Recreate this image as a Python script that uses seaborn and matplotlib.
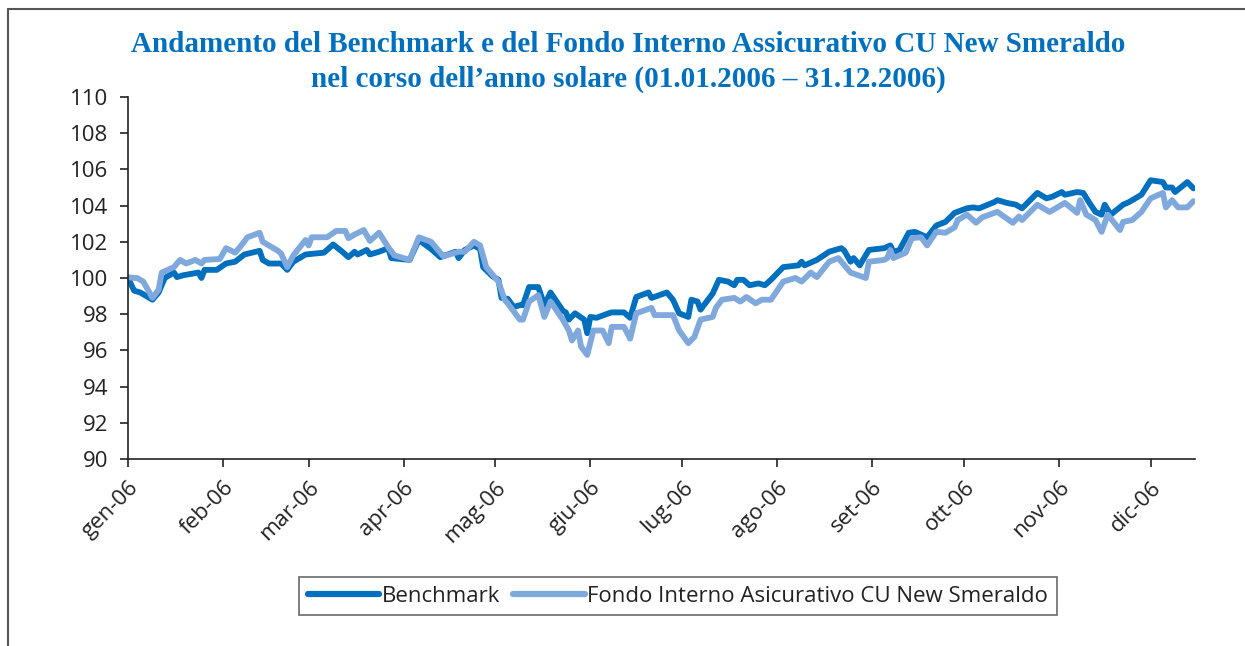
import pandas as pd
import matplotlib.pyplot as plt
import seaborn as sns

# giorni dal 01.01.2006 e valori
giorni_benchmark = [0, 2, 4, 6, 8, 10, 12, 15, 16, 18, 23, 24, 25, 29, 32, 35, 38, 43, 44, 46,
                    50, 52, 54, 58, 64, 67, 70, 72, 74, 75, 78, 79, 82, 85, 86, 92, 95, 99, 102, 107,
                    108, 110, 113, 115, 116, 119, 121, 122, 124, 126, 128, 129, 131, 134, 136, 138, 142, 143, 144, 146,
                    149, 150, 151, 153, 157, 158, 162, 164, 166, 170, 171, 176, 178, 180, 183, 184, 186, 187, 191, 193,
                    196, 198, 199, 201, 203, 206, 208, 210, 214, 219, 220, 221, 225, 229, 233, 234, 236, 237, 239, 242,
                    247, 249, 250, 252, 255, 257, 261, 264, 267, 270, 274, 276, 278, 283, 284, 287, 290, 292, 297, 300,
                    302, 305, 306, 310, 312, 314, 316, 318, 319, 321, 325, 327, 331, 334, 338, 339, 341, 342, 346, 348]
valori_benchmark = [100.0, 99.3, 99.2, 99.0, 98.8, 99.2, 100.0, 100.3, 100.05, 100.15, 100.3, 100.0, 100.45, 100.45, 100.8, 100.9, 101.3, 101.5, 101.0, 100.8,
                    100.8, 100.45, 100.9, 101.3, 101.4, 101.85, 101.45, 101.15, 101.45, 101.3, 101.55, 101.3, 101.45, 101.65, 101.1, 101.0, 102.1, 101.6, 101.15, 101.45,
                    101.1, 101.55, 101.8, 101.6, 100.6, 100.1, 99.9, 98.9, 98.85, 98.4, 98.5, 98.5, 99.5, 99.5, 98.5, 99.2, 98.2, 98.1, 97.7, 98.05,
                    97.7, 96.95, 97.85, 97.8, 98.05, 98.1, 98.1, 97.8, 98.95, 99.2, 98.9, 99.2, 98.8, 98.05, 97.85, 98.8, 98.7, 98.25, 99.15, 99.9,
                    99.8, 99.6, 99.9, 99.9, 99.6, 99.7, 99.6, 99.9, 100.6, 100.7, 100.9, 100.7, 101.0, 101.45, 101.65, 101.5, 100.9, 101.1, 100.7, 101.55,
                    101.65, 101.8, 101.45, 101.55, 102.5, 102.55, 102.25, 102.9, 103.1, 103.6, 103.85, 103.9, 103.85, 104.2, 104.3, 104.15, 104.05, 103.85, 104.7, 104.4,
                    104.5, 104.75, 104.6, 104.75, 104.7, 104.15, 103.65, 103.5, 104.05, 103.5, 104.05, 104.2, 104.6, 105.4, 105.3, 105.0, 105.0, 104.75, 105.3, 104.95]

giorni_fondo = [0, 2, 3, 5, 8, 10, 11, 15, 17, 19, 22, 24, 25, 30, 32, 35, 37, 39, 43, 44,
                46, 49, 50, 52, 54, 58, 59, 60, 65, 68, 71, 72, 74, 77, 79, 82, 85, 87, 92, 95,
                99, 102, 103, 108, 110, 113, 115, 117, 120, 121, 123, 124, 128, 129, 131, 134, 136, 138, 142, 144,
                145, 147, 148, 150, 152, 155, 157, 158, 162, 164, 166, 171, 172, 178, 180, 183, 185, 187, 191, 192,
                194, 198, 200, 202, 205, 207, 210, 211, 214, 218, 220, 223, 225, 229, 232, 236, 241, 242, 247, 248,
                249, 250, 254, 256, 259, 261, 264, 267, 270, 271, 274, 277, 279, 283, 284, 289, 291, 292, 297, 301,
                306, 310, 311, 313, 316, 318, 320, 324, 325, 328, 331, 334, 338, 339, 341, 343, 346, 348]
valori_fondo = [100.05, 100.0, 100.0, 99.8, 98.9, 99.35, 100.3, 100.6, 101.0, 100.8, 101.0, 100.8, 101.0, 101.05, 101.65, 101.4, 101.8, 102.25, 102.5, 102.0,
                101.8, 101.5, 101.35, 100.6, 101.25, 102.1, 101.8, 102.25, 102.25, 102.6, 102.6, 102.2, 102.4, 102.65, 102.05, 102.5, 101.7, 101.25, 101.0, 102.25,
                102.0, 101.4, 101.2, 101.45, 101.45, 102.0, 101.8, 100.6, 100.0, 99.8, 98.8, 98.6, 97.7, 97.7, 98.7, 99.05, 97.85, 98.7, 97.7, 97.1,
                96.55, 97.1, 96.2, 95.75, 97.1, 97.1, 96.4, 97.3, 97.3, 96.65, 98.05, 98.35, 97.95, 97.95, 97.1, 96.4, 96.75, 97.7, 97.85, 98.35,
                98.8, 98.9, 98.7, 98.95, 98.6, 98.8, 98.8, 99.05, 99.8, 100.0, 99.8, 100.3, 100.05, 100.9, 101.1, 100.3, 100.0, 100.9, 101.0, 101.1,
                101.55, 101.1, 101.4, 102.2, 102.25, 101.8, 102.55, 102.5, 102.8, 103.2, 103.5, 103.05, 103.35, 103.6, 103.65, 103.05, 103.4, 103.2, 104.05, 103.65,
                104.15, 103.6, 104.3, 103.5, 103.2, 102.55, 103.5, 102.65, 103.1, 103.2, 103.65, 104.4, 104.7, 103.9, 104.3, 103.9, 103.9, 104.25]

mesi = ['2006-01-01', '2006-02-01', '2006-03-01', '2006-04-01', '2006-05-01', '2006-06-01',
        '2006-07-01', '2006-08-01', '2006-09-01', '2006-10-01', '2006-11-01', '2006-12-01']
etichette_mesi = ['gen-06', 'feb-06', 'mar-06', 'apr-06', 'mag-06', 'giu-06',
                  'lug-06', 'ago-06', 'set-06', 'ott-06', 'nov-06', 'dic-06']

nome_benchmark = 'Benchmark'
nome_fondo = 'Fondo Interno Asicurativo CU New Smeraldo'

inizio = pd.Timestamp('2006-01-01')
df_b = pd.DataFrame({'data': inizio + pd.to_timedelta(giorni_benchmark, unit='D'),
                     'valore': valori_benchmark, 'serie': nome_benchmark})
df_f = pd.DataFrame({'data': inizio + pd.to_timedelta(giorni_fondo, unit='D'),
                     'valore': valori_fondo, 'serie': nome_fondo})
df = pd.concat([df_b, df_f], ignore_index=True)

sns.set_style('ticks')
plt.rcParams['font.family'] = ['Open Sans', 'DejaVu Sans']

fig = plt.figure(figsize=(12.45, 6.46), dpi=100)
ax = fig.add_axes([128 / 1245, 1 - 459 / 646, (1195 - 128) / 1245, (459 - 97) / 646])

sns.lineplot(data=df, x='data', y='valore', hue='serie', estimator=None, sort=False,
             palette={nome_benchmark: '#0070BE', nome_fondo: '#7FA8DC'},
             hue_order=[nome_benchmark, nome_fondo],
             linewidth=4.2, ax=ax, legend=True)
for linea in ax.lines:
    linea.set_solid_capstyle('round')
    linea.set_solid_joinstyle('round')

ax.set_ylim(90, 110)
ax.set_yticks(range(90, 111, 2))
ax.set_xlim(inizio, pd.Timestamp('2006-12-15 12:00'))
ax.set_xticks(pd.to_datetime(mesi))
ax.set_xticklabels(etichette_mesi, rotation=45, ha='right', va='top', rotation_mode='anchor')
ax.tick_params(axis='both', labelsize=16, colors='#222222', length=6, width=1.2)
ax.tick_params(axis='y', pad=8)
ax.tick_params(axis='x', pad=7)
ax.set_xlabel('')
ax.set_ylabel('')
sns.despine(ax=ax)
for s in ['left', 'bottom']:
    ax.spines[s].set_color('#222222')
    ax.spines[s].set_linewidth(1.2)

leg = ax.legend(loc='center', bbox_to_anchor=(678 / 1245, 1 - 596 / 646), bbox_transform=fig.transFigure,
                ncol=2, frameon=True, fancybox=False, fontsize=16, handlelength=3.2, handletextpad=0.1,
                columnspacing=0.6, borderpad=0.4, labelcolor='#222222')
leg.get_frame().set_edgecolor('#444444')
leg.get_frame().set_linewidth(1.2)
for h in leg.get_lines():
    h.set_linewidth(4.5)

fig.text(628 / 1245, 1 - 45 / 646, 'Andamento del Benchmark e del Fondo Interno Assicurativo CU New Smeraldo',
         ha='center', va='center', fontsize=21, fontweight='bold', color='#0070BE', family='Liberation Serif')
fig.text(628 / 1245, 1 - 79 / 646, 'nel corso dell\u2019anno solare (01.01.2006 \u2013 31.12.2006)',
         ha='center', va='center', fontsize=21, fontweight='bold', color='#0070BE', family='Liberation Serif')

# bordo del riquadro
fig.add_artist(plt.Line2D([8 / 1245, 1], [1 - 9 / 646, 1 - 9 / 646], transform=fig.transFigure, color='#555555', lw=1.5))
fig.add_artist(plt.Line2D([8 / 1245, 8 / 1245], [0, 1 - 9 / 646], transform=fig.transFigure, color='#555555', lw=1.5))

fig.savefig('out.png', dpi=100)
